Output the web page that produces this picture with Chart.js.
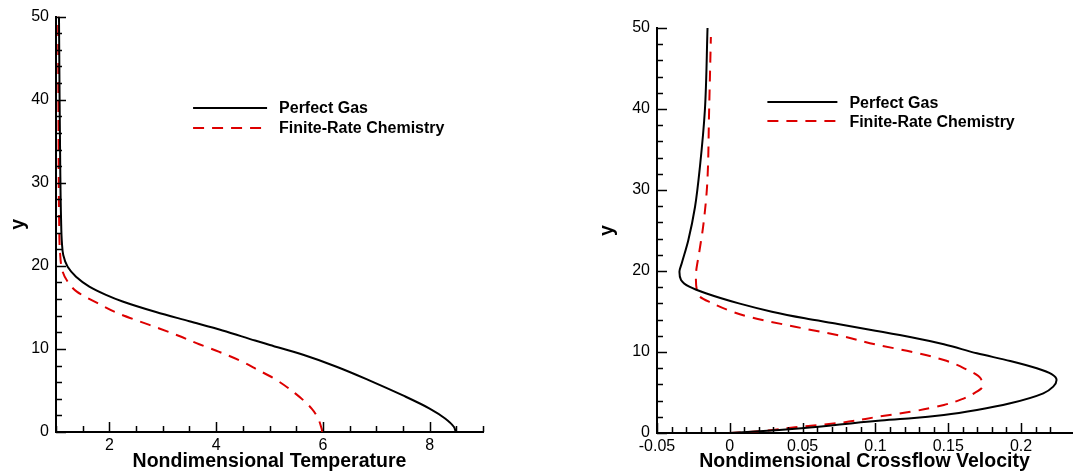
<!DOCTYPE html>
<html>
<head>
<meta charset="utf-8">
<script src="https://cdn.jsdelivr.net/npm/chart.js@4.4.1/dist/chart.umd.min.js"></script>
<style>
  body { margin: 0; background: #fff; width: 1076px; height: 476px; overflow: hidden; position: relative; }
  .box { position: absolute; top: 0; }
</style>
</head>
<body>
<div class="box" style="left:0"><canvas id="left" width="500" height="476"></canvas></div>
<div class="box" style="left:576px"><canvas id="right" width="500" height="476"></canvas></div>
<script>
// temperature profiles (x = T, y = wall distance)
const tempPerfect = [8.49, 8.453, 8.29, 8.0, 7.5, 6.88, 6.256, 5.63, 5.007, 4.73, 4.12, 3.497, 2.873, 2.248, 1.936, 1.624, 1.375, 1.218, 1.137, 1.11, 1.095, 1.08, 1.068, 1.056];
const yTempPerfect = [0, 0.63, 1.63, 2.82, 4.4, 6.19, 7.86, 9.29, 10.48, 11.01, 12.22, 13.33, 14.44, 15.71, 16.51, 17.5, 18.69, 19.88, 21.27, 22.86, 25.6, 31.6, 39.5, 50];
const tempChem = [5.99, 5.975, 5.91, 5.79, 5.476, 5.07, 4.81, 4.43, 4.06, 3.684, 3.31, 2.935, 2.56, 2.155, 1.78, 1.39, 1.218, 1.125, 1.075, 1.06, 1.05, 1.045, 1.04];
const yTempChem = [0, 0.44, 1.63, 2.82, 4.68, 6.5, 7.38, 8.65, 9.64, 10.56, 11.55, 12.46, 13.33, 14.3, 15.5, 16.9, 18.1, 19.29, 21.67, 25, 32, 40, 50];

// crossflow velocity profiles
const velPerfect = [0, 0.0175, 0.0493, 0.1019, 0.1246, 0.147, 0.1697, 0.1926, 0.2153, 0.2221, 0.2244, 0.221, 0.2108, 0.1926, 0.1697, 0.147, 0.1246, 0.1, 0.0742, 0.0516, 0.0289, 0.0062, -0.0165, -0.0278, -0.0335, -0.0346, -0.033, -0.0285, -0.0239, -0.0205, -0.0171, -0.0153];
const yVelPerfect = [0, 0.17, 0.58, 1.52, 1.81, 2.22, 2.84, 3.67, 4.9, 5.72, 6.54, 7.28, 7.99, 8.89, 9.84, 10.95, 11.81, 12.63, 13.46, 14.16, 14.98, 16.0, 17.25, 18.06, 18.9, 19.9, 20.95, 23.8, 27.9, 32.9, 39.9, 50];
const velChem = [0, 0.0175, 0.0448, 0.0765, 0.1019, 0.1246, 0.147, 0.159, 0.1677, 0.1734, 0.1722, 0.1609, 0.147, 0.1246, 0.1019, 0.0765, 0.0448, 0.0153, 0.0017, -0.0119, -0.0216, -0.0233, -0.021, -0.0183, -0.0156, -0.0142, -0.013];
const yVelChem = [0, 0.17, 0.7, 1.27, 2.01, 2.63, 3.46, 4.15, 4.9, 5.72, 6.75, 7.99, 9.01, 10.04, 10.86, 11.98, 13.12, 14.24, 14.98, 16.0, 17.04, 19.3, 22.3, 25.5, 30.5, 39.9, 48.9];

const seriesNames = ['Perfect Gas', 'Finite-Rate Chemistry'];

const FONT = '"Liberation Sans", Arial, Helvetica, sans-serif';
Chart.defaults.color = '#000';
Chart.defaults.font.family = FONT;

function pts(xs, ys) {
  return xs.map((v, i) => ({ x: v, y: ys[i] }));
}

// ticks drawn inward from the axis lines, long ones where labelled
const innerTicks = {
  id: 'innerTicks',
  afterDraw(chart, args, opts) {
    const ctx = chart.ctx;
    const xs = chart.scales.x, ys = chart.scales.y;
    ctx.save();
    ctx.strokeStyle = '#000';
    ctx.lineWidth = 1.5;
    ctx.beginPath();
    xs.ticks.forEach(t => {
      const k = t.value / opts.xStep;
      if (Math.abs(k - Math.round(k)) > 1e-6) return;
      const px = Math.round(xs.getPixelForValue(t.value)) + 0.5;
      const len = t.label !== '' ? 10 : 6;
      ctx.moveTo(px, xs.top);
      ctx.lineTo(px, xs.top - len);
    });
    ys.ticks.forEach(t => {
      const py = Math.round(ys.getPixelForValue(t.value)) + 0.5;
      const len = t.label !== '' ? 10 : 6;
      ctx.moveTo(ys.right, py);
      ctx.lineTo(ys.right + len, py);
    });
    ctx.stroke();
    ctx.restore();
  }
};

const boxLegend = {
  id: 'boxLegend',
  afterDraw(chart, args, opts) {
    const ctx = chart.ctx;
    const a = chart.chartArea;
    const x = a.left + opts.x * (a.right - a.left);
    const y0 = a.top + opts.y * (a.bottom - a.top);
    ctx.save();
    chart.data.datasets.forEach((ds, i) => {
      const y = y0 + i * opts.gap;
      ctx.strokeStyle = ds.borderColor;
      ctx.lineWidth = ds.borderWidth;
      ctx.setLineDash(ds.borderDash || []);
      ctx.beginPath();
      ctx.moveTo(x, y);
      ctx.lineTo(x + opts.len, y);
      ctx.stroke();
      ctx.setLineDash([]);
      ctx.fillStyle = '#000';
      ctx.font = 'bold 16px ' + FONT;
      ctx.textBaseline = 'middle';
      ctx.fillText(ds.label, x + opts.len + 12, y + 1);
    });
    ctx.restore();
  }
};

function makeChart(id, sets, xcfg, pad, yWidth, xHeight, legendPos) {
  return new Chart(document.getElementById(id), {
    type: 'line',
    data: {
      datasets: [
        {
          label: seriesNames[0],
          data: sets[0],
          borderColor: '#000',
          borderWidth: 2,
          pointRadius: 0,
          fill: false,
          cubicInterpolationMode: 'monotone'
        },
        {
          label: seriesNames[1],
          data: sets[1],
          borderColor: '#dd0000',
          borderWidth: 2,
          borderDash: [11, 8],
          pointRadius: 0,
          fill: false,
          cubicInterpolationMode: 'monotone'
        }
      ]
    },
    options: {
      indexAxis: 'y',   // profiles are single-valued in y
      responsive: false,
      animation: false,
      devicePixelRatio: 1,
      layout: { padding: pad },
      plugins: {
        legend: { display: false },
        tooltip: { enabled: false },
        innerTicks: { xStep: xcfg.step },
        boxLegend: legendPos
      },
      scales: {
        x: {
          type: 'linear',
          position: 'bottom',
          min: xcfg.min,
          max: xcfg.max,
          grid: { display: false, drawTicks: false },
          border: { display: true, color: '#000', width: 2 },
          ticks: {
            stepSize: xcfg.step,
            autoSkip: false,
            maxRotation: 0,
            padding: 4,
            font: { size: 16 },
            callback: xcfg.label
          },
          title: {
            display: true,
            text: xcfg.title,
            font: { size: 19.5, weight: 'bold' },
            padding: { top: 0, bottom: 1 }
          },
          afterFit(s) { s.height = xHeight; }
        },
        y: {
          type: 'linear',
          position: 'left',
          reverse: false,
          min: 0,
          max: 50,
          grid: { display: false, drawTicks: false },
          border: { display: true, color: '#000', width: 2 },
          ticks: {
            stepSize: 2,
            autoSkip: false,
            padding: 7,
            font: { size: 16 },
            callback: v => (Math.round(v) % 10 === 0 ? String(Math.round(v)) : '')
          },
          title: {
            display: true,
            text: 'y',
            font: { size: 19.5, weight: 'bold' },
            padding: { top: 2, bottom: 0 }
          },
          afterFit(s) { s.width = yWidth; }
        }
      }
    },
    plugins: [innerTicks, boxLegend]
  });
}

makeChart('left',
  [pts(tempPerfect, yTempPerfect), pts(tempChem, yTempChem)],
  {
    min: 1, max: 9, step: 0.5,
    title: 'Nondimensional Temperature',
    label: v => (v >= 2 && Math.abs(v % 2) < 1e-9 ? String(v) : '')
  },
  { left: 5, right: 17, top: 13, bottom: 2 }, 51, 42,
  { x: 0.321, y: 0.22, gap: 20, len: 74 }
);

makeChart('right',
  [pts(velPerfect, yVelPerfect), pts(velChem, yVelChem)],
  {
    min: -0.05, max: 0.235, step: 0.01,
    title: 'Nondimensional Crossflow Velocity',
    label: v => {
      const k = Math.round(v * 100);
      if (Math.abs(v * 100 - k) > 1e-6 || k % 5 !== 0) return '';
      return String(parseFloat(v.toFixed(2)));
    }
  },
  { left: 18, right: 1, top: 28, bottom: 2 }, 63, 41,
  { x: 0.266, y: 0.183, gap: 19, len: 70 }
);
</script>
</body>
</html>
